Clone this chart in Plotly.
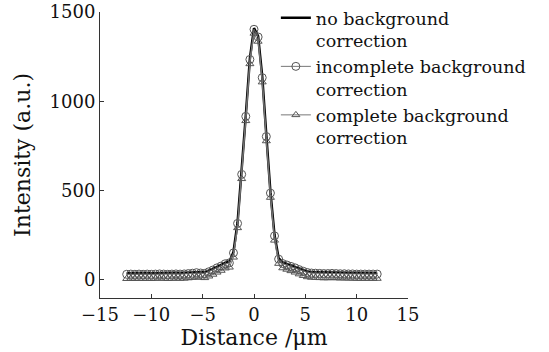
import plotly.graph_objects as go

distance = [-12.4, -12.0, -11.6, -11.2, -10.8, -10.4, -10.0, -9.6, -9.2, -8.8,
            -8.4, -8.0, -7.6, -7.2, -6.8, -6.4, -6.0, -5.6, -5.2, -4.8,
            -4.4, -4.0, -3.6, -3.2, -2.8, -2.4, -2.0, -1.6, -1.2, -0.8,
            -0.4, 0.0, 0.4, 0.8, 1.2, 1.6, 2.0, 2.4, 2.8, 3.2,
            3.6, 4.0, 4.4, 4.8, 5.2, 5.6, 6.0, 6.4, 6.8, 7.2,
            7.6, 8.0, 8.4, 8.8, 9.2, 9.6, 10.0, 10.4, 10.8, 11.2,
            11.6, 12.0]

no_background = [36, 37, 36, 37, 36, 37, 36, 37, 38, 37,
                 36, 37, 38, 37, 38, 40, 42, 45, 43, 41,
                 50, 60, 72, 82, 95, 100, 155, 320, 595, 920,
                 1240, 1410, 1365, 1140, 810, 490, 250, 120, 96, 88,
                 80, 72, 62, 53, 46, 43, 42, 41, 40, 40,
                 41, 40, 39, 39, 38, 38, 37, 37, 37, 37,
                 37, 37]

incomplete = [30, 31, 30, 31, 30, 31, 30, 31, 32, 31,
              30, 31, 32, 31, 32, 34, 36, 39, 37, 35,
              44, 54, 66, 76, 89, 94, 150, 315, 590, 915,
              1234, 1403, 1360, 1132, 802, 485, 245, 115, 90, 82,
              74, 66, 56, 47, 40, 37, 36, 35, 34, 34,
              35, 34, 33, 33, 32, 32, 31, 31, 31, 31,
              31, 31]

complete = [5, 6, 5, 6, 5, 6, 5, 6, 7, 6,
            5, 6, 7, 6, 7, 9, 11, 14, 12, 10,
            19, 29, 41, 51, 64, 69, 125, 290, 565, 890,
            1209, 1380, 1335, 1107, 777, 460, 220, 90, 65, 57,
            49, 41, 31, 22, 15, 12, 11, 10, 9, 9,
            10, 9, 8, 8, 7, 7, 6, 6, 6, 6,
            6, 6]

x_ticks = [-15, -10, -5, 0, 5, 10, 15]
y_ticks = [0, 500, 1000, 1500]

FONT = "DejaVu Serif"

fig = go.Figure()
fig.add_trace(go.Scatter(
    x=distance, y=no_background, mode="lines",
    name="no background<br>correction",
    line=dict(color="black", width=2.5),
))
fig.add_trace(go.Scatter(
    x=distance, y=incomplete, mode="lines+markers",
    name="incomplete background<br>correction",
    line=dict(color="#777777", width=1),
    marker=dict(symbol="circle-open", size=8, color="#555555", line=dict(width=1)),
))
fig.add_trace(go.Scatter(
    x=distance, y=complete, mode="lines+markers",
    name="complete background<br>correction",
    line=dict(color="#777777", width=1),
    marker=dict(symbol="triangle-up-open", size=7, color="#555555", line=dict(width=1)),
))

fig.update_layout(
    width=549, height=352,
    margin=dict(l=100, r=141, t=12, b=54, autoexpand=False),
    paper_bgcolor="white", plot_bgcolor="white",
    font=dict(family=FONT, size=18, color="#111111"),
    showlegend=True,
    legend=dict(
        x=0.571, xanchor="left", y=1.042, yanchor="top",
        traceorder="normal", valign="top",
        bgcolor="rgba(0,0,0,0)", font=dict(family=FONT, size=17.5),
        tracegroupgap=0, itemwidth=30,
    ),
    xaxis=dict(
        range=[-15, 15], tickvals=x_ticks,
        ticks="inside", ticklen=4, tickcolor="#333333",
        showline=True, linecolor="#333333", linewidth=1,
        showgrid=False, zeroline=False, automargin=False,
        ticklabeloverflow="allow",
        title=dict(text="Distance /μm", standoff=0),
    ),
    yaxis=dict(
        range=[-103, 1500], tickvals=y_ticks,
        ticks="inside", ticklen=4, tickcolor="#333333",
        showline=True, linecolor="#333333", linewidth=1,
        showgrid=False, zeroline=False, automargin=False,
        ticklabeloverflow="allow",
        title=dict(text="Intensity (a.u.)", standoff=12),
    ),
)

fig.write_html(
    "out.html",
    config={"displayModeBar": False},
    post_script="document.body.style.margin='0';document.body.style.overflow='hidden';",
)
